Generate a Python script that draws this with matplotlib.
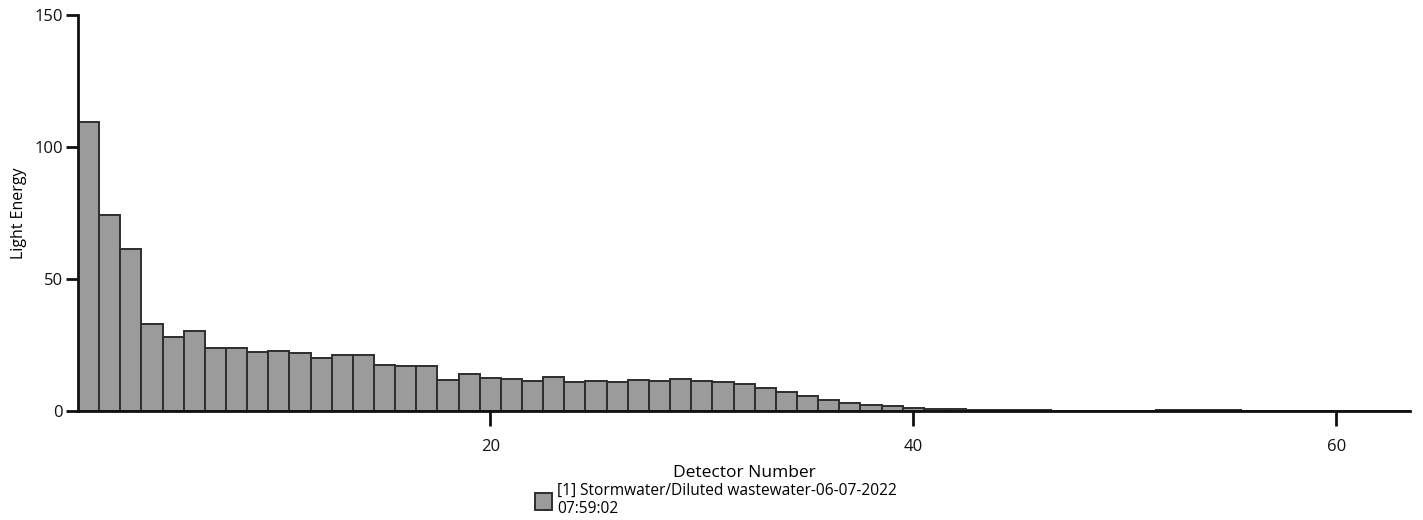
import matplotlib
matplotlib.use('Agg')
import matplotlib.pyplot as plt
import numpy as np

plt.rcParams['font.family'] = ['Open Sans', 'DejaVu Sans']

# light energy per detector channel
detectors = list(range(1, 64))
energy = [
    109.5, 74.4, 61.5, 33.1, 28.2, 30.4, 23.8, 23.8, 22.2, 22.9,
    22.1, 20.2, 21.1, 21.1, 17.3, 17.2, 17.2, 11.6, 14.2, 12.4,
    12.0, 11.2, 12.8, 10.9, 11.3, 10.9, 11.8, 11.4, 12.0, 11.5,
    11.0, 10.1, 8.7, 7.2, 5.5, 4.3, 3.2, 2.4, 1.8, 1.3,
    0.9, 0.6, 0.4, 0.3, 0.2, 0.2, 0.1, 0.1, 0.1, 0.1,
    0.1, 0.4, 0.3, 0.2, 0.2, 0.1, 0.1, 0.05, 0.05, 0.0,
    0.0, 0.0, 0.0,
]
sample_name = "[1] Stormwater/Diluted wastewater-06-07-2022\n07:59:02"

fig = plt.figure(figsize=(14.23, 5.2), dpi=100)
ax = fig.add_axes([0.0548, 0.2096, 0.9362, 0.7615])

ax.bar(detectors, energy, width=1.0, color='#9b9b9b', edgecolor='#2e2e2e',
       linewidth=1.4, label=sample_name)

ax.set_xlim(0.5, 63.5)
ax.set_ylim(0, 150)
ax.set_xticks([20, 40, 60])
ax.set_yticks([0, 50, 100, 150])

for side in ['top', 'right']:
    ax.spines[side].set_visible(False)
for side in ['left', 'bottom']:
    ax.spines[side].set_linewidth(2)
    ax.spines[side].set_color('#111111')

ax.tick_params(axis='x', length=11, width=2, pad=9, labelsize=12, colors='#111111')
ax.tick_params(axis='y', length=9, width=2, pad=2, labelsize=12, colors='#111111')

ax.set_xlabel("Detector Number", fontsize=12.5, labelpad=7)
ax.set_ylabel("Light Energy", fontsize=11.5, labelpad=5)

fig.legend(loc='upper left', bbox_to_anchor=(0.376, 0.071), frameon=False,
           fontsize=11.2, handlelength=1.1, handleheight=1.3, handletextpad=0.3,
           borderpad=0, borderaxespad=0, labelspacing=0.2)

fig.savefig('out.png', dpi=100)
